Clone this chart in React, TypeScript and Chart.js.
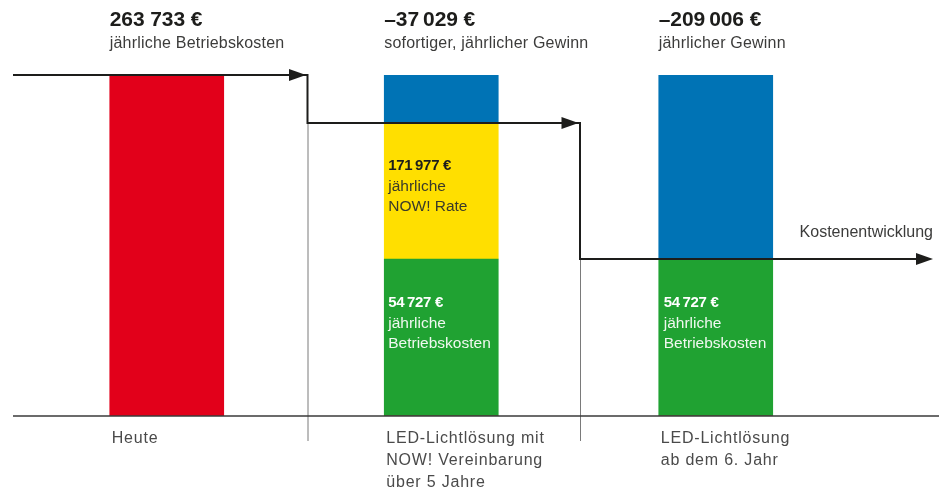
import React, { useEffect, useRef } from "react";
import { Chart, registerables } from "chart.js";

Chart.register(...registerables);

// ---- data ----
const categories = ["Heute", "LED-Lichtlösung mit NOW! Vereinbarung über 5 Jahre", "LED-Lichtlösung ab dem 6. Jahr"];
const categoryLines = [["Heute"], ["LED-Lichtlösung mit", "NOW! Vereinbarung", "über 5 Jahre"], ["LED-Lichtlösung", "ab dem 6. Jahr"]];
// visual bar heights as drawn in the graphic (€ scale, not strictly proportional in the original)
const redValues = [263733, 0, 0];
const greenValues = [0, 121400, 121400];
const yellowValues = [0, 105304, 0];
const blueValues = [0, 37029, 142333];
const headlineValues = ["263 733 €", "–37\u2009029 €", "–209\u2009006 €"];
const headlineTexts = ["jährliche Betriebskosten", "sofortiger, jährlicher Gewinn", "jährlicher Gewinn"];
const yellowLabel = ["171\u2009977 €", "jährliche", "NOW! Rate"];
const greenLabel = ["54\u2009727 €", "jährliche", "Betriebskosten"];
const axisLabel = "Kostenentwicklung";
const yMax = 263733;

const FONT = "'Liberation Sans', Arial, sans-serif";
const COLORS = { red: "#e2001a", green: "#20a232", yellow: "#ffdf00", blue: "#0073b5" };

const decorPlugin = {
  id: "decor",
  afterDatasetsDraw(chart: any) {
    const ctx: CanvasRenderingContext2D = chart.ctx;
    const x = chart.scales.x;
    const y = chart.scales.y;
    const half = 57;
    const left = (i: number) => x.getPixelForValue(i) - half;
    const level0 = y.getPixelForValue(redValues[0]);
    const level1 = y.getPixelForValue(greenValues[1] + yellowValues[1]);
    const level2 = y.getPixelForValue(greenValues[2]);
    const base = y.getPixelForValue(0);
    const step1 = (x.getPixelForValue(0) + x.getPixelForValue(1)) / 2 + 3.5;
    const step2 = (x.getPixelForValue(1) + x.getPixelForValue(2)) / 2 + 1.5;
    const startX = 13;
    const endX = 933;
    ctx.save();

    // dividers (thin gray)
    ctx.strokeStyle = "#7a7a7a";
    ctx.lineWidth = 1;
    ctx.beginPath();
    ctx.moveTo(step1 + 0.5, level1);
    ctx.lineTo(step1 + 0.5, base + 25);
    ctx.moveTo(step2 + 0.5, level2);
    ctx.lineTo(step2 + 0.5, base + 25);
    ctx.stroke();

    // baseline
    ctx.strokeStyle = "#3a3a3a";
    ctx.lineWidth = 1.5;
    ctx.beginPath();
    ctx.moveTo(startX, base);
    ctx.lineTo(939, base);
    ctx.stroke();

    // cost development arrow line
    ctx.strokeStyle = "#1d1d1b";
    ctx.fillStyle = "#1d1d1b";
    ctx.lineWidth = 2;
    ctx.beginPath();
    ctx.moveTo(startX, level0);
    ctx.lineTo(step1, level0);
    ctx.moveTo(step1, level0 - 1);
    ctx.lineTo(step1, level1);
    ctx.lineTo(step2, level1);
    ctx.moveTo(step2, level1 - 1);
    ctx.lineTo(step2, level2);
    ctx.lineTo(endX - 4, level2);
    ctx.stroke();
    const head = (tx: number, ty: number) => {
      ctx.beginPath();
      ctx.moveTo(tx, ty);
      ctx.lineTo(tx - 17, ty - 6);
      ctx.lineTo(tx - 17, ty + 6);
      ctx.closePath();
      ctx.fill();
    };
    head(step1 - 1.5, level0);
    head(step2 - 1.5, level1);
    head(endX, level2);

    ctx.textBaseline = "alphabetic";
    ctx.textAlign = "left";

    // headlines
    for (let i = 0; i < 3; i++) {
      const lx = left(i);
      ctx.fillStyle = "#1d1d1b";
      ctx.font = `bold 21px ${FONT}`;
      (ctx as any).letterSpacing = "-0.1px";
      ctx.fillText(headlineValues[i], lx, 26);
      ctx.fillStyle = "#3c3c3b";
      ctx.font = `16px ${FONT}`;
      (ctx as any).letterSpacing = "0.2px";
      ctx.fillText(headlineTexts[i], lx, 48);
    }

    // inner labels
    const inner = (lines: string[], lx: number, top: number, c1: string, c2: string) => {
      ctx.fillStyle = c1;
      ctx.font = `bold 15px ${FONT}`;
      (ctx as any).letterSpacing = "-0.3px";
      ctx.fillText(lines[0], lx, top + 47.5);
      ctx.fillStyle = c2;
      ctx.font = `15.5px ${FONT}`;
      (ctx as any).letterSpacing = "0px";
      ctx.fillText(lines[1], lx, top + 68.5);
      ctx.fillText(lines[2], lx, top + 88.5);
    };
    inner(yellowLabel, left(1) + 4, level1, "#1d1d1b", "#3a3a2a");
    inner(greenLabel, left(1) + 4, level2, "#ffffff", "#f0f8f0");
    inner(greenLabel, left(2) + 5, level2, "#ffffff", "#f0f8f0");

    // axis label
    ctx.fillStyle = "#3c3c3b";
    ctx.font = `16px ${FONT}`;
    (ctx as any).letterSpacing = "0px";
    ctx.textAlign = "right";
    ctx.fillText(axisLabel, endX, level2 - 22);

    // category labels
    ctx.textAlign = "left";
    ctx.fillStyle = "#4a4a4a";
    ctx.font = `16px ${FONT}`;
    (ctx as any).letterSpacing = "0.8px";
    categoryLines.forEach((lines, i) => {
      lines.forEach((t, j) => ctx.fillText(t, left(i) + 2, base + 27 + j * 22));
    });
    ctx.restore();
  },
};

export default function App() {
  const ref = useRef<HTMLCanvasElement>(null);
  useEffect(() => {
    if (!ref.current) return;
    const chart = new Chart(ref.current, {
      type: "bar",
      data: {
        labels: categories,
        datasets: [
          { label: "Heute", data: redValues, backgroundColor: COLORS.red },
          { label: "Betriebskosten", data: greenValues, backgroundColor: COLORS.green },
          { label: "NOW! Rate", data: yellowValues, backgroundColor: COLORS.yellow },
          { label: "Gewinn", data: blueValues, backgroundColor: COLORS.blue },
        ],
      },
      options: {
        responsive: false,
        animation: false,
        devicePixelRatio: 1,
        layout: { padding: { left: 29.5, right: 89, top: 75, bottom: 72 } },
        datasets: { bar: { barThickness: 114, borderWidth: 0 } },
        scales: {
          x: { stacked: true, display: false },
          y: { stacked: true, display: false, min: 0, max: yMax },
        },
        plugins: { legend: { display: false }, tooltip: { enabled: false } },
      },
      plugins: [decorPlugin],
    });
    return () => chart.destroy();
  }, []);
  return (
    <div style={{ position: "absolute", left: 0, top: 0, width: 942, height: 488, background: "#fff" }}>
      <canvas ref={ref} width={942} height={488} />
    </div>
  );
}
